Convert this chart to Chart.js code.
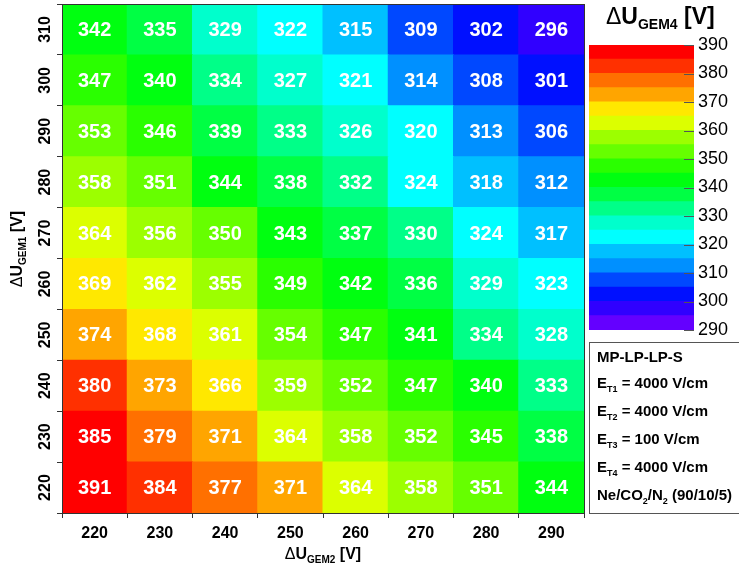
<!DOCTYPE html>
<html lang="en">
<head>
<meta charset="UTF-8">
<title>dU GEM4 map</title>
<script src="https://cdn.jsdelivr.net/npm/chart.js"></script>
<style>
  html, body { margin: 0; padding: 0; background: #fff; }
  #wrap { position: relative; width: 739px; height: 563px; overflow: hidden; }
  #wrap canvas { position: absolute; left: 0; top: 0; }
</style>
</head>
<body>
<div id="wrap">
  <canvas id="map" width="739" height="563"></canvas>
  <canvas id="zbar" width="739" height="563"></canvas>
</div>
<script>
// axes: dU GEM2 (x) and dU GEM1 (y), both in V
const xVals = [220, 230, 240, 250, 260, 270, 280, 290];
const yVals = [220, 230, 240, 250, 260, 270, 280, 290, 300, 310];

// dU GEM4 [V], one row per GEM1 value
const row220 = [391, 384, 377, 371, 364, 358, 351, 344];
const row230 = [385, 379, 371, 364, 358, 352, 345, 338];
const row240 = [380, 373, 366, 359, 352, 347, 340, 333];
const row250 = [374, 368, 361, 354, 347, 341, 334, 328];
const row260 = [369, 362, 355, 349, 342, 336, 329, 323];
const row270 = [364, 356, 350, 343, 337, 330, 324, 317];
const row280 = [358, 351, 344, 338, 332, 324, 318, 312];
const row290 = [353, 346, 339, 333, 326, 320, 313, 306];
const row300 = [347, 340, 334, 327, 321, 314, 308, 301];
const row310 = [342, 335, 329, 322, 315, 309, 302, 296];
const zRows = [row220, row230, row240, row250, row260, row270, row280, row290, row300, row310];

// colour scale contours
const zLevels = [290, 295, 300, 305, 310, 315, 320, 325, 330, 335,
                 340, 345, 350, 355, 360, 365, 370, 375, 380, 385];
const zTicks = [290, 300, 310, 320, 330, 340, 350, 360, 370, 380, 390];
const binHalf = 5, zStep = 5;

const palette = ['#6400ff', '#3000ff', '#0010ff', '#0048ff', '#0090ff',
                 '#00c0ff', '#00ffff', '#00ffcc', '#00ff88', '#00ff44',
                 '#00ff10', '#2aff00', '#66ff00', '#9cff00', '#dcff00',
                 '#ffe800', '#ffa500', '#ff7000', '#ff3000', '#ff0000'];

const FONT = "'Liberation Sans', Arial, Helvetica, sans-serif";

function colorFor(z) {
  let i = Math.floor((z - zLevels[0]) / zStep);
  return palette[Math.max(0, Math.min(palette.length - 1, i))];
}

// text with subscripts: parts = [[text, size, dy, weight], ...]
function drawRich(ctx, x, y, parts, align) {
  const fnt = p => (p[3] || 'bold') + ' ' + p[1] + 'px ' + FONT;
  let w = 0;
  parts.forEach(p => { ctx.font = fnt(p); w += ctx.measureText(p[0]).width; });
  let cx = align === 'center' ? x - w / 2 : x;
  ctx.textAlign = 'left';
  ctx.textBaseline = 'alphabetic';
  parts.forEach(p => {
    ctx.font = fnt(p);
    ctx.fillText(p[0], cx, y + (p[2] || 0));
    cx += ctx.measureText(p[0]).width;
  });
}

const mapDecor = {
  id: 'mapDecor',
  afterDraw(chart) {
    const ctx = chart.ctx, a = chart.chartArea;
    const xs = chart.scales.x, ys = chart.scales.y;
    ctx.save();

    // cell values
    ctx.fillStyle = '#fff';
    ctx.font = 'bold 20px ' + FONT;
    ctx.textAlign = 'center';
    ctx.textBaseline = 'middle';
    zRows.forEach((row, j) => {
      row.forEach((z, i) => {
        ctx.fillText(String(z), xs.getPixelForValue(i), ys.getPixelForValue(yVals[j]) + 1);
      });
    });

    // frame
    ctx.strokeStyle = '#333';
    ctx.lineWidth = 1;
    ctx.strokeRect(Math.round(a.left) + 0.5, Math.round(a.top) + 0.5,
                   Math.round(a.right - a.left), Math.round(a.bottom - a.top));

    // y tick labels, rotated
    ctx.fillStyle = '#000';
    ctx.font = 'bold 16px ' + FONT;
    ctx.textAlign = 'center';
    ctx.textBaseline = 'alphabetic';
    yVals.forEach(v => {
      ctx.save();
      ctx.translate(a.left - 12, ys.getPixelForValue(v));
      ctx.rotate(-Math.PI / 2);
      ctx.fillText(String(v), 0, 0);
      ctx.restore();
    });

    // axis titles
    drawRich(ctx, (a.left + a.right) / 2, 559,
      [['\u0394', 16, 0, 'normal'], ['U', 16, 0], ['GEM2', 10, 4], [' [V]', 16, 0]], 'center');
    ctx.save();
    ctx.translate(22, 249);
    ctx.rotate(-Math.PI / 2);
    drawRich(ctx, 0, 0, [['\u0394', 16, 0, 'normal'], ['U', 16, 0], ['GEM1', 10, 4], [' [V]', 16, 0]], 'center');
    ctx.restore();

    // info box
    ctx.fillStyle = '#fff';
    ctx.fillRect(589.5, 342.5, 160, 171);
    ctx.strokeStyle = '#555';
    ctx.strokeRect(589.5, 342.5, 160, 171);
    ctx.fillStyle = '#000';
    const bx = 597;
    drawRich(ctx, bx, 362, [['MP-LP-LP-S', 15, 0]]);
    drawRich(ctx, bx, 388, [['E', 15, 0], ['T1', 9, 4], [' = 4000 V/cm', 15, 0]]);
    drawRich(ctx, bx, 416, [['E', 15, 0], ['T2', 9, 4], [' = 4000 V/cm', 15, 0]]);
    drawRich(ctx, bx, 444, [['E', 15, 0], ['T3', 9, 4], [' = 100 V/cm', 15, 0]]);
    drawRich(ctx, bx, 472, [['E', 15, 0], ['T4', 9, 4], [' = 4000 V/cm', 15, 0]]);
    drawRich(ctx, bx, 500, [['Ne/CO', 15, 0], ['2', 9, 4], ['/N', 15, 0], ['2', 9, 4], [' (90/10/5)', 15, 0]]);

    ctx.restore();
  }
};

const yEdges = yVals.map(v => v - binHalf).concat([yVals[yVals.length - 1] + binHalf]);

new Chart(document.getElementById('map'), {
  type: 'bar',
  data: {
    labels: xVals.map(String),
    datasets: yVals.map((y, j) => ({
      data: zRows[j].map(() => [y - binHalf, y + binHalf]),
      backgroundColor: zRows[j].map(colorFor),
      borderWidth: 0,
      barPercentage: 1,
      categoryPercentage: 1,
      grouped: false,
      inflateAmount: 0.5
    }))
  },
  options: {
    responsive: false,
    animation: false,
    devicePixelRatio: 1,
    layout: { padding: { top: 4, right: 155, bottom: 0, left: 0 } },
    plugins: { legend: { display: false }, tooltip: { enabled: false } },
    scales: {
      x: {
        type: 'category',
        offset: true,
        grid: { offset: true, drawOnChartArea: false, tickLength: 5, color: '#333' },
        border: { color: '#333' },
        ticks: { color: '#000', font: { family: FONT, size: 16, weight: 'bold' }, padding: 6, maxRotation: 0 },
        afterFit: s => { s.height = 50; }
      },
      y: {
        type: 'linear',
        min: yEdges[0],
        max: yEdges[yEdges.length - 1],
        afterBuildTicks: s => { s.ticks = yEdges.map(v => ({ value: v })); },
        grid: { drawOnChartArea: false, tickLength: 5, color: '#333' },
        border: { color: '#333' },
        ticks: { display: false },
        afterFit: s => { s.width = 62; }
      }
    }
  },
  plugins: [mapDecor]
});

const zbarDecor = {
  id: 'zbarDecor',
  afterDraw(chart) {
    const ctx = chart.ctx, a = chart.chartArea, ys = chart.scales.y;
    ctx.save();
    ctx.strokeStyle = '#555';
    ctx.lineWidth = 1;
    zTicks.forEach(v => {
      const py = Math.round(ys.getPixelForValue(v)) + 0.5;
      ctx.beginPath();
      ctx.moveTo(a.right - 10, py);
      ctx.lineTo(a.right, py);
      ctx.stroke();
    });
    ctx.fillStyle = '#000';
    drawRich(ctx, 606, 24, [['\u0394', 23, 0, 'normal'], ['U', 23, 0], ['GEM4', 14, 5], [' [V]', 23, 0]]);
    ctx.restore();
  }
};

new Chart(document.getElementById('zbar'), {
  type: 'bar',
  data: {
    labels: [''],
    datasets: zLevels.map((lv, i) => ({
      data: [[lv, lv + zStep]],
      backgroundColor: palette[i],
      borderWidth: 0,
      barPercentage: 1,
      categoryPercentage: 1,
      grouped: false,
      inflateAmount: 0.5
    }))
  },
  options: {
    responsive: false,
    animation: false,
    devicePixelRatio: 1,
    layout: { padding: { left: 589, top: 45, right: 0, bottom: 233 } },
    plugins: { legend: { display: false }, tooltip: { enabled: false } },
    scales: {
      x: { display: false },
      y: {
        position: 'right',
        min: zTicks[0],
        max: zTicks[zTicks.length - 1],
        afterBuildTicks: s => { s.ticks = zTicks.map(v => ({ value: v })); },
        grid: { display: false, drawTicks: false },
        border: { display: false },
        ticks: { color: '#000', font: { family: FONT, size: 18 }, padding: 4 },
        afterFit: s => { s.width = 45; }
      }
    }
  },
  plugins: [zbarDecor]
});
</script>
</body>
</html>
